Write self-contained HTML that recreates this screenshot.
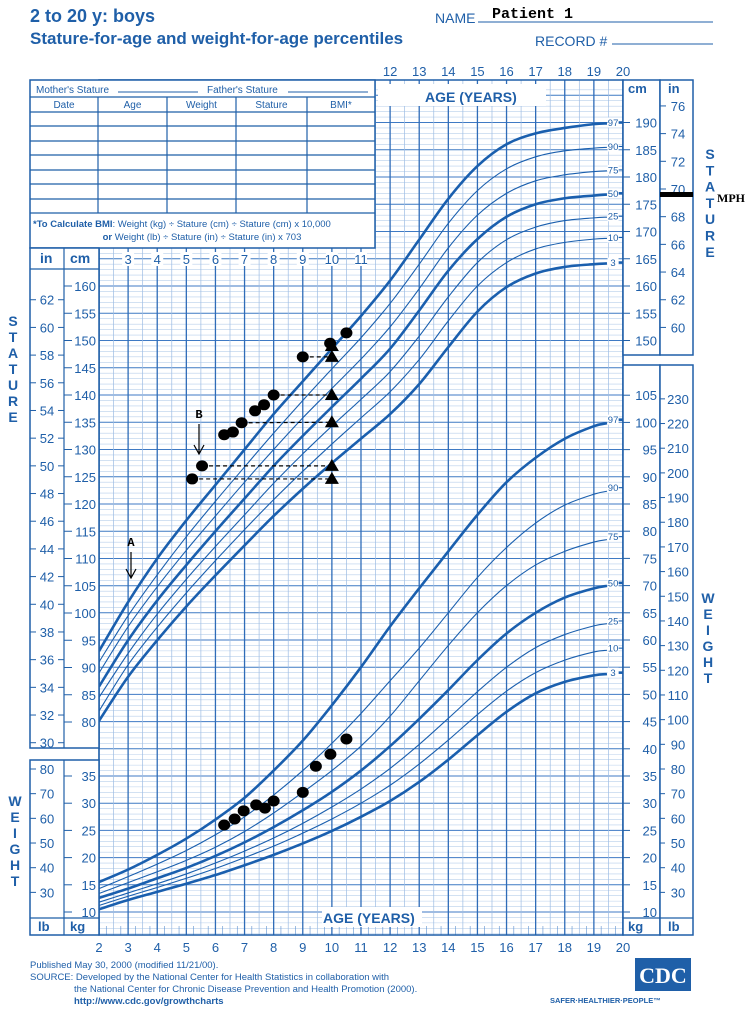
<!DOCTYPE html>
<html><head><meta charset="utf-8"><style>
html,body{margin:0;padding:0;background:#fff;}
body{width:754px;height:1013px;overflow:hidden;font-family:"Liberation Sans",sans-serif;}
svg text{font-family:"Liberation Sans",sans-serif;}
</style></head><body>
<svg id="chart" width="754" height="1013" viewBox="0 0 754 1013" xmlns="http://www.w3.org/2000/svg">
<g id="grid"></g>
<g id="curves"></g>
<g id="panels"></g>
<g id="patient"></g>
<g id="static">
 <text x="30" y="22" font-size="18" font-weight="bold" fill="#1f5fa8">2 to 20 y: boys</text>
 <text x="30" y="44" font-size="17" font-weight="bold" fill="#1f5fa8">Stature-for-age and weight-for-age percentiles</text>
 <text x="435" y="23" font-size="14" fill="#1f5fa8">NAME</text>
 <line x1="478" y1="22" x2="713" y2="22" stroke="#1f5fa8" stroke-width="1"/>
 <text x="492" y="18" font-size="15" font-weight="bold" style="font-family:'Liberation Mono',monospace">Patient 1</text>
 <text x="535" y="46" font-size="14" fill="#1f5fa8">RECORD #</text>
 <line x1="612" y1="44" x2="713" y2="44" stroke="#1f5fa8" stroke-width="1"/>
 <text x="30" y="968" font-size="9.5" fill="#1f5fa8">Published May 30, 2000 (modified 11/21/00).</text>
 <text x="30" y="980" font-size="9.5" fill="#1f5fa8">SOURCE: Developed by the National Center for Health Statistics in collaboration with</text>
 <text x="74" y="992" font-size="9.5" fill="#1f5fa8">the National Center for Chronic Disease Prevention and Health Promotion (2000).</text>
 <text x="74" y="1004" font-size="9.5" font-weight="bold" fill="#1f5fa8">http://www.cdc.gov/growthcharts</text>
 <rect x="635" y="958" width="56" height="33" fill="#1f5fa8"/>
 <text x="663" y="983" font-size="22" font-weight="bold" fill="#fff" text-anchor="middle" style="font-family:'Liberation Serif',serif">CDC</text>
 <text x="550" y="1003" font-size="7.5" font-weight="bold" fill="#1f5fa8">SAFER·HEALTHIER·PEOPLE™</text>
</g>
</svg>
<script>
const ages=[2,3,4,5,6,7,8,9,10,11,12,13,14,15,16,17,18,19,20];
const pctNames=["97","90","75","50","25","10","3"];
const statP97=[93,102,110,117,123.5,130,136.5,142.5,148.5,154.5,161,168.5,176,182,186,188,189,189.7,190];
const statP90=[91,99.5,107,114,120.5,126.8,133,139,144.8,150.5,156.8,164,171.5,177.5,181.5,183.7,184.8,185.3,185.6];
const statP75=[89,97.5,104.8,111.5,117.8,124,130,135.8,141.2,146.6,152.5,159.5,167,173,177,179.3,180.4,181,181.3];
const statP50=[86.5,95,102.3,108.8,115,121,127,132.5,137.8,143,148.5,155.5,162.8,168.6,172.7,175,176.1,176.6,177];
const statP25=[84.5,92.6,99.8,106.2,112.2,118,123.8,129.2,134.3,139.2,144.3,150.8,158,164.3,168.5,170.8,172,172.5,172.8];
const statP10=[82,90.5,97.4,103.7,109.6,115.3,120.8,126,131,135.8,140.6,146.5,153.6,160,164.3,166.8,168,168.6,168.9];
const statP3=[80.2,88.3,95,101.2,106.9,112.4,117.8,122.8,127.5,132,136.5,142,148.8,155.3,159.8,162.3,163.5,164,164.3];
const wtP97=[15.5,17.8,20.5,23.5,27,31,36,41.5,48,55,62.5,69.5,76.3,83,89,93.5,97,99.3,100.5];
const wtP90=[14.3,16.5,18.8,21.3,24.2,27.5,31.5,36,41,46.5,52.5,58.5,65,71.5,77,81.5,84.8,86.8,88];
const wtP75=[13.4,15.4,17.4,19.5,21.9,24.8,28.2,32,36,40.5,46,52.5,59,65,70,73.8,76.3,78,79];
const wtP50=[12.6,14.3,16.2,18.1,20.3,22.8,25.6,28.7,32.1,36,40.5,45.5,50.8,56.3,61.2,65,67.8,69.5,70.5];
const wtP25=[11.8,13.5,15.2,17,19,21.2,23.6,26.3,29.3,32.6,36.4,40.8,45.6,50.5,55,58.6,61,62.6,63.5];
const wtP10=[11.2,12.9,14.5,16.2,18,20,22.1,24.5,27.1,30,33.3,37.2,41.6,46.3,50.6,54,56.3,57.8,58.5];
const wtP3=[10.5,12.2,13.7,15.2,16.8,18.6,20.5,22.6,24.9,27.5,30.4,33.9,38,42.5,46.8,50.2,52.3,53.5,54];
const ptStatAges=[5.2,5.54,6.3,6.6,6.9,7.36,7.67,8.0,9.0,9.94,10.5];
const ptStatCm=[124.6,127,132.7,133.2,134.9,137.1,138.2,140,147,149.5,151.4];
const ptTriCm=[124.6,127,135,140,147,149];
const ptWtAges=[6.3,6.66,6.97,7.4,7.7,8.0,9.0,9.45,9.95,10.5];
const ptWtKg=[26,27.1,28.6,29.7,29.1,30.4,32,36.8,39,41.8];
const topAges=[12,13,14,15,16,17,18,19,20];
const midAges=[3,4,5,6,7,8,9,10,11];

const NS="http://www.w3.org/2000/svg";
const BLUE="#1f5fa8";
const X=a=>99+(a-2)*29.11;
const YS=cm=>722-(cm-80)*5.45;
const YW=kg=>912-(kg-10)*5.44;
function mk(parent,tag,attrs,text){const e=document.createElementNS(NS,tag);for(const k in attrs)e.setAttribute(k,attrs[k]);if(text!==undefined)e.textContent=text;parent.appendChild(e);return e;}
const grid=document.getElementById('grid'),curves=document.getElementById('curves'),panels=document.getElementById('panels'),patient=document.getElementById('patient');

for(let cm=70;cm<=196;cm++){const y=YS(cm);if(y<80||y>600)continue;const maj=cm%5===0;
 const l=mk(grid,'line',{x1:99,x2:623,y1:y,y2:y,stroke:maj?'#3f7ac4':'#b8cfeb','stroke-width':maj?1:0.6});
 
 }
for(let kg=6;kg<=70;kg++){const y=YW(kg);if(y<=600||y>935)continue;const maj=kg%5===0;
 const l=mk(grid,'line',{x1:99,x2:623,y1:y,y2:y,stroke:maj?'#3f7ac4':'#b8cfeb','stroke-width':maj?1:0.6});
 
 }
for(let a=2;a<=20.01;a+=0.5){const x=X(a);const maj=Math.abs(a-Math.round(a))<0.01;
 const l=mk(grid,'line',{x1:x,x2:x,y1:80,y2:935,stroke:maj?'#2f6cb8':'#9dbce3','stroke-width':maj?1.3:0.7});
 
 }
for(let a=2;a<=20.01;a+=0.25){if(Math.abs(a*2-Math.round(a*2))<0.01)continue;const x=X(a);
 const l=mk(grid,'line',{x1:x,x2:x,y1:926,y2:935,stroke:'#5b8fcf','stroke-width':0.6});
 
 }
const gb=mk(grid,'rect',{x:99,y:80,width:524,height:855,fill:'none',stroke:BLUE,'stroke-width':1.5});



function pathFor(xs,ys){let d='M'+xs[0]+','+ys[0];for(let i=0;i<xs.length-1;i++){const x0=xs[Math.max(i-1,0)],y0=ys[Math.max(i-1,0)],x1=xs[i],y1=ys[i],x2=xs[i+1],y2=ys[i+1],x3=xs[Math.min(i+2,xs.length-1)],y3=ys[Math.min(i+2,xs.length-1)];
 d+=' C'+(x1+(x2-x0)/6)+','+(y1+(y2-y0)/6)+' '+(x2-(x3-x1)/6)+','+(y2-(y3-y1)/6)+' '+x2+','+y2;}return d;}
function drawSet(sets,Yf,kind){sets.forEach((vals,i)=>{const thick=(i===0||i===3||i===6);
 const xs=[],ys=[];ages.forEach((a,j)=>{if(a<=19){xs.push(X(a));ys.push(Yf(vals[j]));}});
 const a19=19.45,v19=vals[17]+(vals[18]-vals[17])*0.45;xs.push(X(a19));ys.push(Yf(v19));
 const p=mk(curves,'path',{d:pathFor(xs,ys),fill:'none',stroke:'#1a5fae','stroke-width':thick?2.6:1.1});
 
 
 const yl=Yf(vals[18]);
 const t=mk(curves,'line',{x1:X(19.85),x2:X(20),y1:yl,y2:yl,stroke:'#1a5fae','stroke-width':thick?2.6:1.1});
 
 
 const bg=mk(curves,'rect',{x:X(19.47),y:yl-5,width:11,height:10,fill:'#fff'});
 
 
 const tx=mk(curves,'text',{x:X(19.66),y:yl+3.5,'font-size':9.5,fill:BLUE,'text-anchor':'middle'},pctNames[i]);
 
 });}
drawSet([statP97,statP90,statP75,statP50,statP25,statP10,statP3],YS,'stature');
drawSet([wtP97,wtP90,wtP75,wtP50,wtP25,wtP10,wtP3],YW,'weight');

function box(x,y,w,h,name){const r=mk(panels,'rect',{x:x,y:y,width:w,height:h,fill:'#fff',stroke:BLUE,'stroke-width':1.5});return r;}
function ln(x1,y1,x2,y2,name,w,c){const l=mk(panels,'line',{x1:x1,y1:y1,x2:x2,y2:y2,stroke:c||BLUE,'stroke-width':w||1});return l;}
function tx(x,y,s,str,name,extra){const a={x:x,y:y,'font-size':s,fill:BLUE};Object.assign(a,extra||{});const t=mk(panels,'text',a,str);return t;}
box(30,80,345,168,'record-table');
tx(36,93,10,"Mother's Stature",'mothers-stature-label');ln(118,92,198,92,'mothers-stature-line');
tx(207,93,10,"Father's Stature",'fathers-stature-label');ln(288,92,368,92,'fathers-stature-line');
ln(30,97,375,97,'table-line',1.2);
const cols=[30,98,167,236,307,375];const heads=['Date','Age','Weight','Stature','BMI*'];
heads.forEach((h,i)=>tx((cols[i]+cols[i+1])/2,108,10,h,'table-header-'+h.toLowerCase().replace('*',''),{'text-anchor':'middle'}));
[112,126,141,155,170,184,199,213].forEach(y=>ln(30,y,375,y,'table-row-line',1.2));
cols.slice(1,5).forEach(x=>ln(x,97,x,213,'table-col-line',1.2));
tx(33,227,9.5,'','bmi-note').innerHTML='<tspan font-weight="bold">*To Calculate BMI</tspan>: Weight (kg) ÷ Stature (cm) ÷ Stature (cm) x 10,000';
tx(202,240,9.5,'','bmi-note-2',{'text-anchor':'middle'}).innerHTML='<tspan font-weight="bold">or</tspan> Weight (lb) ÷ Stature (in) ÷ Stature (in) x 703';

box(30,248,69,500,'left-stature-axis');ln(64,248,64,748,'panel-divider',1.2);ln(30,269,99,269,'panel-header-line',1.2);
tx(40,263,14,'in','left-in-header',{'font-weight':'bold'});tx(70,263,14,'cm','left-cm-header',{'font-weight':'bold'});
midAges.forEach(a=>{const b=mk(panels,'rect',{x:X(a)-6,y:252,width:12,height:14,fill:'#fff'});tx(X(a),264,13,String(a),'age-label-'+a,{'text-anchor':'middle'});});
for(let cm=80;cm<=160;cm+=5){const y=YS(cm);ln(64,y,72,y,'cm-tick');tx(96,y+5,13,String(cm),'left-cm-label-'+cm,{'text-anchor':'end'});}
for(let i=30;i<=62;i+=2){const y=YS(i*2.54);ln(30,y,36,y,'in-tick');ln(58,y,64,y,'in-tick');tx(47,y+5,13,String(i),'left-in-label-'+i,{'text-anchor':'middle'});}
box(30,760,69,175,'left-weight-axis');ln(64,760,64,935,'panel-divider',1.2);ln(30,918,99,918,'panel-footer-line',1.2);
tx(38,931,13,'lb','left-lb-header',{'font-weight':'bold'});tx(70,931,13,'kg','left-kg-header',{'font-weight':'bold'});
for(let kg=10;kg<=35;kg+=5){const y=YW(kg);ln(64,y,72,y,'kg-tick');tx(96,y+5,13,String(kg),'left-kg-label-'+kg,{'text-anchor':'end'});}
for(let lb=30;lb<=80;lb+=10){const y=YW(lb/2.2046);ln(30,y,36,y,'lb-tick');tx(47,y+5,13,String(lb),'left-lb-label-'+lb,{'text-anchor':'middle'});}
box(623,80,37,275,'right-cm-axis');box(660,80,33,275,'right-in-axis');
tx(628,93,13,'cm','right-cm-header',{'font-weight':'bold'});tx(668,93,13,'in','right-in-header',{'font-weight':'bold'});
for(let cm=150;cm<=190;cm+=5){const y=YS(cm);ln(623,y,630,y,'cm-tick');tx(657,y+5,13,String(cm),'right-cm-label-'+cm,{'text-anchor':'end'});}
for(let i=60;i<=76;i+=2){const y=YS(i*2.54);ln(660,y,666,y,'in-tick');tx(678,y+5,13,String(i),'right-in-label-'+i,{'text-anchor':'middle'});}
box(623,365,37,570,'right-kg-axis');box(660,365,33,570,'right-lb-axis');
tx(628,931,13,'kg','right-kg-header',{'font-weight':'bold'});tx(668,931,13,'lb','right-lb-header',{'font-weight':'bold'});ln(623,918,693,918,'panel-footer-line',1.2);
for(let kg=10;kg<=105;kg+=5){const y=YW(kg);ln(623,y,630,y,'kg-tick');tx(657,y+5,13,String(kg),'right-kg-label-'+kg,{'text-anchor':'end'});}
for(let lb=30;lb<=230;lb+=10){const y=YW(lb/2.2046);if(y>910)continue;ln(660,y,665,y,'lb-tick');tx(678,y+5,13,String(lb),'right-lb-label-'+lb,{'text-anchor':'middle'});}
topAges.forEach(a=>tx(X(a),76,13,String(a),'top-age-label-'+a,{'text-anchor':'middle'}));
ages.forEach(a=>tx(X(a),952,13,String(a),'bottom-age-label-'+a,{'text-anchor':'middle'}));
const ab1=mk(panels,'rect',{x:378,y:84,width:168,height:22,fill:'#fff'});
tx(425,102,14,'AGE (YEARS)','age-axis-title-top',{'font-weight':'bold'});
const ab2=mk(panels,'rect',{x:322,y:907,width:100,height:20,fill:'#fff'});
tx(323,923,14,'AGE (YEARS)','age-axis-title-bottom',{'font-weight':'bold'});
function vword(x,y0,word,name,step){[...word].forEach((c,i)=>tx(x,y0+i*(step||16),14,c,name+'-'+i,{'font-weight':'bold','text-anchor':'middle'}));}
vword(13,326,'STATURE','left-stature-title');vword(710,159,'STATURE','right-stature-title',16.3);
vword(15,806,'WEIGHT','left-weight-title');vword(708,603,'WEIGHT','right-weight-title');

const mph=mk(patient,'rect',{x:660,y:192,width:33,height:5,fill:'#000'});
const mt=mk(patient,'text',{x:717,y:202,'font-size':12,'font-weight':'bold',style:"font-family:'Liberation Serif',serif"},'MPH');
function arrow(x,y1,y2,label,name){const t=mk(patient,'text',{x:x,y:y1-6,'font-size':12,'font-weight':'bold','text-anchor':'middle',style:"font-family:'Liberation Mono',monospace"},label);
 const p=mk(patient,'path',{d:`M${x},${y1} L${x},${y2} M${x-5},${y2-9} L${x},${y2} L${x+5},${y2-9}`,stroke:'#000','stroke-width':1.2,fill:'none'});}
arrow(131,552,578,'A','marker-a');arrow(199,424,454,'B','marker-b');
const dashPairs=[[0,0],[1,1],[4,2],[7,3],[8,4]];
dashPairs.forEach(([ci,ti])=>{const l=mk(patient,'line',{x1:X(ptStatAges[ci]),y1:YS(ptStatCm[ci]),x2:X(10),y2:YS(ptTriCm[ti]),stroke:'#000','stroke-width':1.2,'stroke-dasharray':'4,3'});});
ptTriCm.forEach(v=>{const x=X(10),y=YS(v);const p=mk(patient,'path',{d:`M${x-7},${y+5} L${x+7},${y+5} L${x},${y-7} Z`,fill:'#000'});});
ptStatAges.forEach((a,i)=>{const c=mk(patient,'ellipse',{cx:X(a),cy:YS(ptStatCm[i]),rx:6,ry:5.5,fill:'#000'});});
ptWtAges.forEach((a,i)=>{const c=mk(patient,'ellipse',{cx:X(a),cy:YW(ptWtKg[i]),rx:6,ry:5.5,fill:'#000'});});
</script>
</body></html>
